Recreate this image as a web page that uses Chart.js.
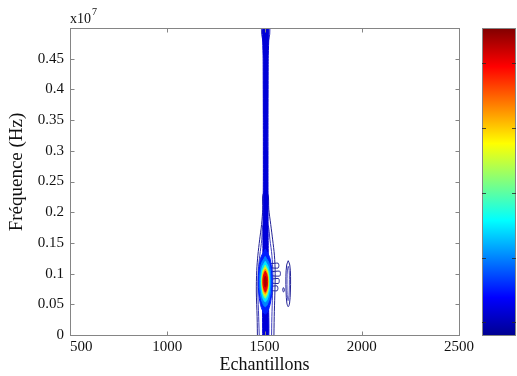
<!DOCTYPE html>
<html><head><meta charset="utf-8">
<script src="https://cdn.jsdelivr.net/npm/chart.js@4.4.1/dist/chart.umd.min.js"></script>
<style>html,body{margin:0;padding:0;background:#fff;}#wrap{width:517px;height:376px;}</style>
</head><body><div id="wrap"><canvas id="c" width="517" height="376"></canvas></div>
<script>
// ---- axes ----
const xTicks = [500, 1000, 1500, 2000, 2500];
const xTickLabels = ['500', '1000', '1500', '2000', '2500'];
const yTicks = [0, 0.05, 0.1, 0.15, 0.2, 0.25, 0.3, 0.35, 0.4, 0.45];
const yTickLabels = ['0', '0.05', '0.1', '0.15', '0.2', '0.25', '0.3', '0.35', '0.4', '0.45'];
const xRange = [500, 2500];
const yRange = [0, 0.5];            // frequency in units of 10^7 Hz
const colorbarTicks = [0.045, 0.253, 0.464, 0.676, 0.886]; // fraction of colour range
const jetStops = [[0, '#00008f'], [0.125, '#0000ff'], [0.375, '#00ffff'], [0.625, '#ffff00'], [0.875, '#ff0000'], [1, '#800000']];

// ---- contour curves: [samples, frequency(x10^7 Hz)] ----
const outerOutline = [[1464,-0.01],[1462,0.03],[1458,0.07],[1460,0.105],[1466,0.13],[1475,0.155],[1485,0.18],[1491,0.205],[1493,0.23],[1517,0.23],[1522,0.205],[1532,0.18],[1542,0.155],[1551,0.13],[1555,0.1],[1553,0.065],[1550,0.03],[1548,-0.01]];
const innerOutline = [[1474,-0.01],[1470,0.03],[1466,0.07],[1468,0.105],[1476,0.13],[1486,0.155],[1493,0.18],[1517,0.18],[1528,0.155],[1538,0.13],[1543,0.1],[1541,0.065],[1538,0.03],[1536,-0.01]];
const topCapLeft = [[1484,0.51],[1485,0.49],[1493,0.478]];
const topCapRight = [[1528,0.51],[1527,0.49],[1519,0.478]];
const bandCore = [[1491,-0.01],[1490,0.05],[1492,0.15],[1494,0.25],[1494,0.35],[1493,0.45],[1492,0.51],[1521,0.51],[1519,0.45],[1518,0.35],[1518,0.25],[1519,0.15],[1521,0.05],[1520,-0.01],[1491,-0.01]];
const finger1 = [[1530,0.116],[1570,0.117],[1574,0.113],[1570,0.109],[1530,0.110],[1530,0.116]];
const finger2 = [[1534,0.103],[1578,0.104],[1582,0.100],[1578,0.096],[1534,0.097],[1534,0.103]];
const finger3 = [[1534,0.091],[1572,0.092],[1576,0.088],[1572,0.084],[1534,0.085],[1534,0.091]];
const finger4 = [[1530,0.079],[1565,0.080],[1569,0.076],[1565,0.072],[1530,0.073],[1530,0.079]];
const sideLoopOuter = [[1622,0.121],[1630,0.114],[1634,0.095],[1633,0.07],[1629,0.052],[1622,0.046],[1615,0.052],[1611,0.07],[1610,0.095],[1614,0.114],[1622,0.121]];
const sideLoopInner = [[1622,0.112],[1627,0.105],[1628,0.09],[1627,0.07],[1624,0.058],[1621,0.056],[1618,0.06],[1616,0.072],[1616,0.092],[1618,0.106],[1622,0.112]];
const smallLoop = [[1596,0.077],[1601,0.076],[1602,0.072],[1598,0.070],[1594,0.073],[1596,0.077]];
const hotLevel1 = [[1504,0.140],[1529,0.124],[1540,0.087],[1529,0.050],[1504,0.034],[1479,0.050],[1468,0.087],[1479,0.124],[1504,0.140]];
const hotLevel2 = [[1504,0.128],[1525,0.115],[1533,0.087],[1525,0.059],[1504,0.046],[1483,0.059],[1475,0.087],[1483,0.115],[1504,0.128]];
const hotLevel3 = [[1504,0.120],[1520,0.110],[1527,0.087],[1520,0.064],[1504,0.054],[1488,0.064],[1481,0.087],[1488,0.110],[1504,0.120]];
const hotLevel4 = [[1504,0.114],[1517,0.105],[1523,0.087],[1517,0.069],[1504,0.060],[1491,0.069],[1485,0.087],[1491,0.105],[1504,0.114]];
const hotLevel5 = [[1504,0.110],[1515,0.103],[1520,0.087],[1515,0.071],[1504,0.064],[1493,0.071],[1488,0.087],[1493,0.103],[1504,0.110]];
const hotLevel6 = [[1504,0.107],[1514,0.100],[1518,0.087],[1514,0.074],[1504,0.067],[1494,0.074],[1490,0.087],[1494,0.100],[1504,0.107]];
const hotLevel7 = [[1504,0.104],[1512,0.098],[1516,0.087],[1512,0.076],[1504,0.070],[1496,0.076],[1492,0.087],[1496,0.098],[1504,0.104]];
const hotLevel8 = [[1504,0.096],[1508,0.093],[1509,0.087],[1508,0.081],[1504,0.078],[1500,0.081],[1499,0.087],[1500,0.093],[1504,0.096]];

// ---- styles (bottom layer first) ----
const NAVY = 'rgb(35,35,150)';
const layers = [
  {pts: outerOutline, color: NAVY, fill: false, tension: 0.3},
  {pts: innerOutline, color: 'rgb(60,60,190)', fill: false, tension: 0.3},
  {pts: finger1, color: NAVY, fill: false, tension: 0.2},
  {pts: finger2, color: NAVY, fill: false, tension: 0.2},
  {pts: finger3, color: NAVY, fill: false, tension: 0.2},
  {pts: finger4, color: NAVY, fill: false, tension: 0.2},
  {pts: sideLoopOuter, color: NAVY, fill: false, tension: 0.35},
  {pts: sideLoopInner, color: 'rgb(80,80,190)', fill: false, tension: 0.35},
  {pts: smallLoop, color: NAVY, fill: false, tension: 0.35},
  {pts: topCapLeft, color: 'rgb(60,60,190)', fill: false, tension: 0.3},
  {pts: topCapRight, color: 'rgb(60,60,190)', fill: false, tension: 0.3},
  {pts: bandCore, color: 'rgb(0,0,215)', fill: true, tension: 0.2},
  {pts: hotLevel1, color: 'rgb(0,30,255)', fill: true, tension: 0.35},
  {pts: hotLevel2, color: 'rgb(0,130,255)', fill: true, tension: 0.35},
  {pts: hotLevel3, color: 'rgb(0,230,255)', fill: true, tension: 0.35},
  {pts: hotLevel4, color: 'rgb(130,255,120)', fill: true, tension: 0.35},
  {pts: hotLevel5, color: 'rgb(255,235,0)', fill: true, tension: 0.35},
  {pts: hotLevel6, color: 'rgb(255,140,0)', fill: true, tension: 0.35},
  {pts: hotLevel7, color: 'rgb(235,0,0)', fill: true, tension: 0.35},
  {pts: hotLevel8, color: 'rgb(165,0,0)', fill: true, tension: 0.35}
];

const datasets = layers.map((L, i) => ({
  data: L.pts.map(([x, y]) => ({x, y})),
  showLine: true,
  borderColor: L.color,
  backgroundColor: L.color,
  borderWidth: 1,
  fill: L.fill ? 'shape' : false,
  tension: L.tension,
  pointRadius: 0,
  clip: 0,
  order: layers.length - i
}));

const AXIS = '#858585';
const FONT = 'Liberation Serif';
Chart.defaults.font.family = FONT;
Chart.defaults.color = '#111';

const decorPlugin = {
  id: 'decor',
  afterDraw(chart) {
    const ctx = chart.ctx, a = chart.chartArea;
    const xs = chart.scales.x, ys = chart.scales.y;
    const L = Math.round(a.left) + 0.5, R = Math.round(a.right) + 0.5;
    const T = Math.round(a.top) + 0.5, B = Math.round(a.bottom) + 0.5;
    ctx.save();
    ctx.strokeStyle = AXIS; ctx.lineWidth = 1;
    ctx.strokeRect(L, T, R - L, B - T);
    const tl = 4;
    ctx.beginPath();
    xTicks.forEach(v => {
      const p = Math.round(xs.getPixelForValue(v)) + 0.5;
      ctx.moveTo(p, B); ctx.lineTo(p, B - tl);
      ctx.moveTo(p, T); ctx.lineTo(p, T + tl);
    });
    yTicks.forEach(v => {
      const p = Math.round(ys.getPixelForValue(v)) + 0.5;
      ctx.moveTo(L, p); ctx.lineTo(L + tl, p);
      ctx.moveTo(R, p); ctx.lineTo(R - tl, p);
    });
    ctx.stroke();

    // colour bar
    const cx0 = Math.round(a.right) + 23, cx1 = 516;
    const cy0 = Math.round(a.top), cy1 = Math.round(a.bottom) + 1;
    const g = ctx.createLinearGradient(0, cy1, 0, cy0);
    jetStops.forEach(([f, c]) => g.addColorStop(f, c));
    ctx.fillStyle = g;
    ctx.fillRect(cx0, cy0, cx1 - cx0, cy1 - cy0);
    ctx.strokeStyle = AXIS;
    ctx.strokeRect(cx0 + 0.5, cy0 + 0.5, cx1 - cx0 - 1, cy1 - cy0 - 1);
    ctx.beginPath();
    colorbarTicks.forEach(f => {
      const p = Math.round(cy1 - f * (cy1 - cy0)) + 0.5;
      ctx.moveTo(cx0, p); ctx.lineTo(cx0 + tl, p);
      ctx.moveTo(cx1, p); ctx.lineTo(cx1 - tl, p);
    });
    ctx.strokeStyle = 'rgba(40,40,40,0.8)';
    ctx.stroke();

    // exponent label
    ctx.fillStyle = '#111';
    ctx.textBaseline = 'alphabetic';
    ctx.textAlign = 'left';
    ctx.font = '14px ' + FONT;
    ctx.fillText('x10', a.left, 23);
    const w = ctx.measureText('x10').width;
    ctx.font = '10px ' + FONT;
    ctx.fillText('7', a.left + w + 1, 15);
    ctx.restore();
  }
};

new Chart(document.getElementById('c'), {
  type: 'scatter',
  data: {datasets},
  options: {
    responsive: false,
    animation: false,
    events: [],
    layout: {padding: {top: 28, right: 58, left: 0, bottom: 0}},
    plugins: {legend: {display: false}, tooltip: {enabled: false}},
    scales: {
      x: {
        type: 'linear', min: xRange[0], max: xRange[1],
        afterBuildTicks: s => { s.ticks = xTicks.map(v => ({value: v})); },
        afterFit: s => { s.height = 41; },
        grid: {display: false, drawTicks: false},
        border: {display: false},
        ticks: {
          autoSkip: false, maxRotation: 0, padding: 3,
          font: {size: 15, family: FONT}, color: '#111',
          callback: (v, i) => (i === 0 ? '      ' : '') + xTickLabels[i]
        },
        title: {display: true, text: 'Echantillons', font: {size: 18, family: FONT}, color: '#111', padding: {top: 0, bottom: 0}}
      },
      y: {
        type: 'linear', min: yRange[0], max: yRange[1],
        afterBuildTicks: s => { s.ticks = yTicks.map(v => ({value: v})); },
        afterFit: s => { s.width = 70; },
        grid: {display: false, drawTicks: false},
        border: {display: false},
        ticks: {
          autoSkip: false, padding: 6,
          font: {size: 15, family: FONT}, color: '#111',
          callback: (v, i) => yTickLabels[i]
        },
        title: {display: true, text: '    Fréquence (Hz)', font: {size: 19, family: FONT}, color: '#111', padding: {top: 6, bottom: 0}}
      }
    }
  },
  plugins: [decorPlugin]
});
</script>
</body></html>
